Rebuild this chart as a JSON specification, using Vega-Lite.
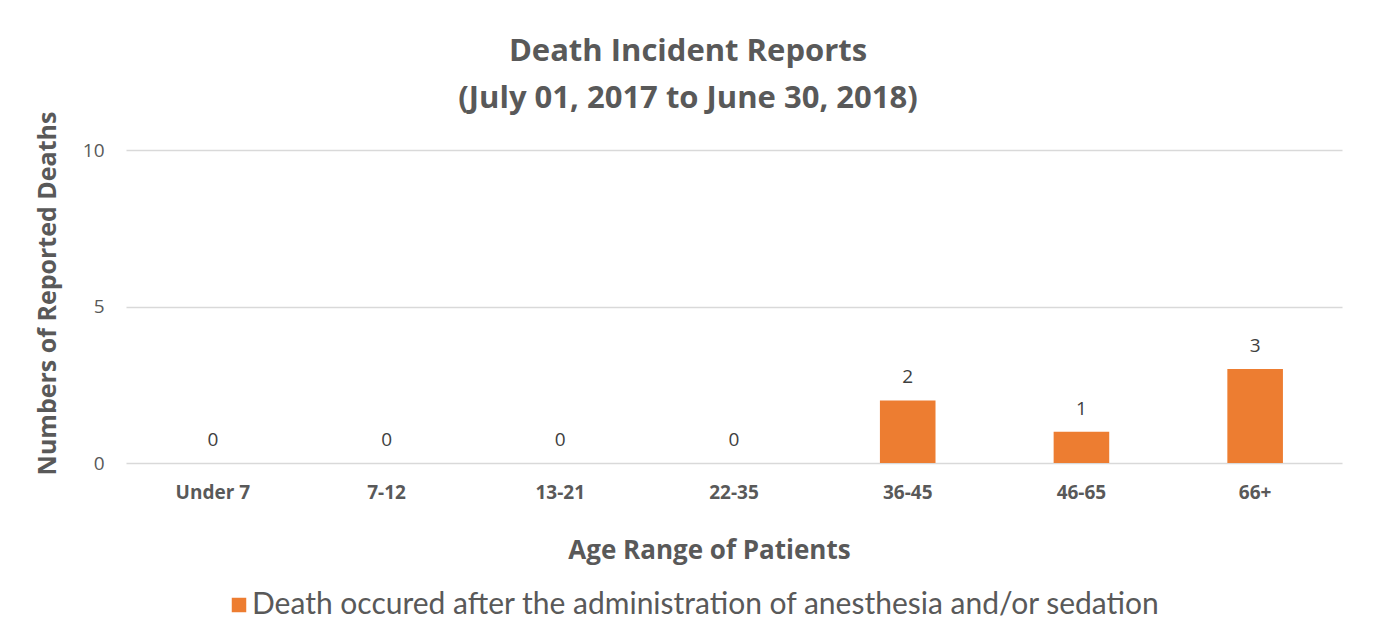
{
  "$schema": "https://vega.github.io/schema/vega-lite/v6.json",
  "width": 1216,
  "height": 313,
  "autosize": {"type": "none"},
  "padding": {"left": 126, "right": 33, "top": 150, "bottom": 181},
  "background": "white",
  "config": {"view": {"stroke": null}},
  "title": {
    "text": ["Death Incident Reports", "(July 01, 2017 to June 30, 2018)"],
    "anchor": "middle",
    "font": "Open Sans",
    "fontSize": 31,
    "fontWeight": "bold",
    "color": "#595959",
    "lineHeight": 47,
    "offset": -4,
    "dx": -46
  },
  "data": {
    "values": [
      {"age": "Under  7", "deaths": 0, "series": "Death occured after the administration of anesthesia and/or sedation"},
      {"age": "7-12", "deaths": 0, "series": "Death occured after the administration of anesthesia and/or sedation"},
      {"age": "13-21", "deaths": 0, "series": "Death occured after the administration of anesthesia and/or sedation"},
      {"age": "22-35", "deaths": 0, "series": "Death occured after the administration of anesthesia and/or sedation"},
      {"age": "36-45", "deaths": 2, "series": "Death occured after the administration of anesthesia and/or sedation"},
      {"age": "46-65", "deaths": 1, "series": "Death occured after the administration of anesthesia and/or sedation"},
      {"age": "66+", "deaths": 3, "series": "Death occured after the administration of anesthesia and/or sedation"}
    ]
  },
  "encoding": {
    "x": {
      "field": "age",
      "type": "nominal",
      "sort": null,
      "scale": {"paddingInner": 0.68, "paddingOuter": 0.34},
      "axis": {
        "title": "Age Range of Patients",
        "titleFont": "Open Sans",
        "titleFontSize": 26,
        "titleFontWeight": "bold",
        "titleColor": "#595959",
        "titlePadding": 35,
        "titleX": 583,
        "labelFont": "Open Sans",
        "labelFontSize": 19,
        "labelFontWeight": "bold",
        "labelColor": "#595959",
        "labelAngle": 0,
        "labelPadding": 20,
        "ticks": false,
        "domain": false
      }
    },
    "y": {
      "field": "deaths",
      "type": "quantitative",
      "scale": {"domain": [0, 10]},
      "axis": {
        "title": "Numbers of Reported Deaths",
        "titleFont": "Open Sans",
        "titleFontSize": 25,
        "titleFontWeight": "bold",
        "titleColor": "#595959",
        "titlePadding": 22,
        "titleY": 143,
        "values": [0, 5, 10],
        "labelFont": "Open Sans",
        "labelFontSize": 19,
        "labelColor": "#595959",
        "labelPadding": 22,
        "ticks": false,
        "domain": false,
        "grid": true,
        "gridColor": "#d9d9d9",
        "gridWidth": 1.5
      }
    }
  },
  "layer": [
    {
      "mark": {"type": "bar", "color": "#ED7D31"},
      "encoding": {
        "color": {
          "field": "series",
          "type": "nominal",
          "scale": {"range": ["#ED7D31"]},
          "legend": {
            "title": null,
            "orient": "none",
            "legendX": 98,
            "legendY": 440,
            "padding": 0,
            "symbolType": "square",
            "symbolSize": 210,
            "symbolStrokeWidth": 0,
            "labelFont": "Lato",
            "labelFontSize": 30,
            "labelColor": "#595959",
            "labelOffset": -2,
            "labelLimit": 1200
          }
        }
      }
    },
    {
      "mark": {"type": "text", "baseline": "bottom", "dy": -13, "font": "Open Sans", "fontSize": 19, "color": "#404040"},
      "encoding": {
        "text": {"field": "deaths", "type": "quantitative"}
      }
    }
  ]
}
